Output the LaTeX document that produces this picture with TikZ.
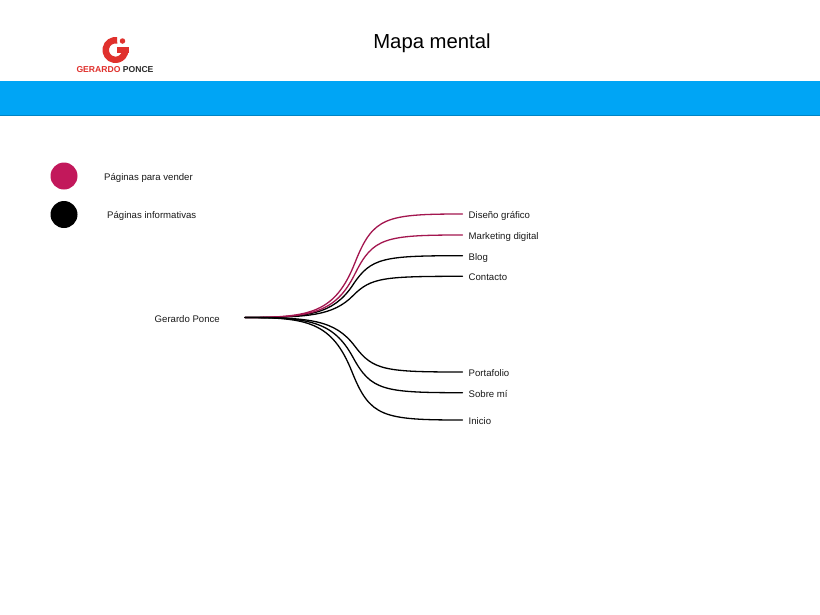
\documentclass[tikz,border=0pt]{standalone}
\usepackage{fontspec}
\setmainfont{Liberation Sans}
\definecolor{bandblue}{HTML}{00A5F5}
\definecolor{sellpink}{HTML}{C2185B}
\definecolor{linepink}{HTML}{A3164F}
\definecolor{logored}{HTML}{E0312D}
\definecolor{logoink}{HTML}{2B2B2B}
\tikzset{
  lbl/.style={font=\fontsize{9.6}{12}\selectfont,text=black!90,inner ysep=0pt,inner xsep=0pt,text height=9pt,text depth=0pt},
  leaf/.style={lbl,anchor=west,inner xsep=6pt},
  branch/.style={line width=1.3pt,line cap=round,line join=round},
  sell/.style={branch,draw=linepink},
  inform/.style={branch,draw=black},
  dot/.style={circle,inner sep=0pt,minimum size=27pt}
}
% style, leaf node, height (positive = up), horizontal shift of the steep part
\newcommand{\mybranch}[4]{%
  \draw[#1] (root.east) .. controls ({310+#4},317.5) and ({335+#4},{317.5-#3*0.04})
    .. ({355+#4},{317.5-#3*0.53}) .. controls ({373+#4},{317.5-#3*0.97}) and ({385+#4},{317.5-#3})
    .. (#2.west);}
\begin{document}
\begin{tikzpicture}[x=1pt,y=-1pt]
\useasboundingbox (0,0) rectangle (820,614);
\fill[white] (0,0) rectangle (820,614);
% band
\fill[bandblue] (0,81) rectangle (820,115);
\draw[bandblue!80!black,line width=0.4pt] (0,115) -- (820,115);
% title
\node[font=\fontsize{20.3}{25}\selectfont,inner sep=0pt] (title) at (432,43.5) {Mapa mental};
% logo
\begin{scope}[shift={(115.5,50)},x=1pt,y=1pt]
  \draw[logored,line width=6.4pt] (80:9.8pt) arc[start angle=80,end angle=360,radius=9.8pt];
  \fill[logored] (1,-3) rectangle (13,3);
\end{scope}
\node[circle,fill=logored,inner sep=0pt,minimum size=5.5pt] (logodot) at (122.5,41) {};
\node[inner sep=0pt,font=\fontsize{8.6}{10}\selectfont\bfseries,anchor=center] (logotext) at (115,69.5)
  {\textcolor{logored}{GERARDO} \textcolor{logoink}{PONCE}};
% legend
\node[dot,fill=sellpink] (d1) at (64,176) {};
\node[dot,fill=black] (d2) at (64,214.5) {};
\node[lbl,anchor=west] (l1) at (104,176) {Páginas para vender};
\node[lbl,anchor=west] (l2) at (107,214.2) {Páginas informativas};
% root
\node[lbl,inner xsep=25pt,anchor=east] (root) at (245,317.5) {Gerardo Ponce};
% leaves
\node[leaf] (a) at (462.5,214) {Diseño gráfico};
\node[leaf] (b) at (462.5,235) {Marketing digital};
\node[leaf] (c) at (462.5,255.7) {Blog};
\node[leaf] (d) at (462.5,276.3) {Contacto};
\node[leaf] (e) at (462.5,372) {Portafolio};
\node[leaf] (f) at (462.5,392.7) {Sobre mí};
\node[leaf] (g) at (462.5,420) {Inicio};
% connectors
\mybranch{inform}{d}{41.2}{-2}
\mybranch{inform}{c}{61.8}{-2}
\mybranch{sell}{b}{82.5}{0}
\mybranch{sell}{a}{103.5}{0}
\mybranch{inform}{e}{-54.5}{0}
\mybranch{inform}{f}{-75.2}{-2}
\mybranch{inform}{g}{-102.5}{-3}
\end{tikzpicture}
\end{document}
